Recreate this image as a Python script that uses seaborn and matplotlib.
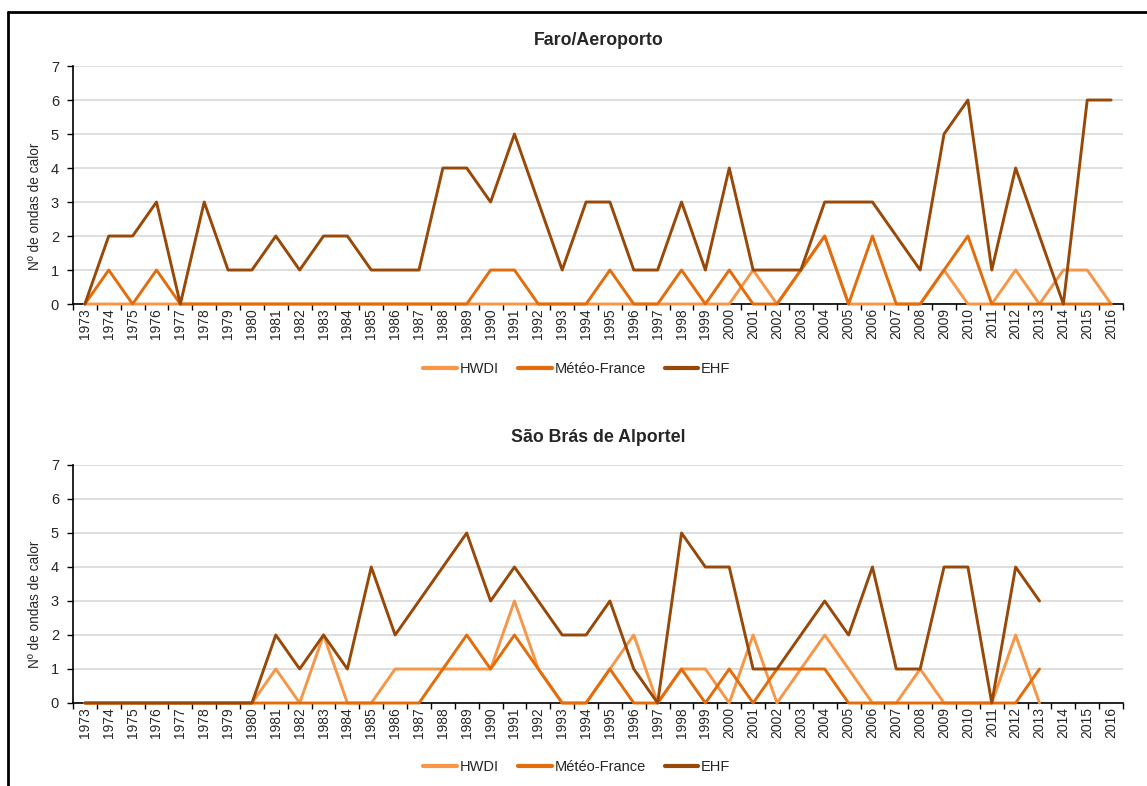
import numpy as np
import pandas as pd
import seaborn as sns
import matplotlib
matplotlib.use("Agg")
import matplotlib.pyplot as plt
from matplotlib.lines import Line2D
from matplotlib.ticker import FixedLocator

years = list(range(1973, 2017))
methods = ["HWDI", "Météo-France", "EHF"]
colors = {"HWDI": "#F79646", "Météo-France": "#E46C0A", "EHF": "#984807"}

# Faro/Aeroporto, 1973-2016
faro_hwdi = [0] * 28 + [1, 0, 1, 2, 0, 0, 0, 0, 1, 0, 0, 1, 0, 1, 1, 0]
faro_meteo = [0, 1, 0, 1, 0] + [0] * 12 + [1, 1, 0, 0, 0, 1, 0, 0, 1, 0, 1, 0, 0, 1,
                                          2, 0, 2, 0, 0, 1, 2, 0, 0, 0, 0, 0, 0]
faro_ehf = [0, 2, 2, 3, 0, 3, 1, 1, 2, 1,
            2, 2, 1, 1, 1, 4, 4, 3, 5, 3,
            1, 3, 3, 1, 1, 3, 1, 4, 1, 1,
            1, 3, 3, 3, 2, 1, 5, 6, 1, 4,
            2, 0, 6, 6]

# Sao Bras de Alportel, 1973-2013 (no data after)
nodata = [np.nan] * 3
sb_hwdi = [0] * 8 + [1, 0, 2, 0, 0, 1, 1, 1, 1, 1, 3, 1, 0, 0, 1, 2, 0, 1, 1, 0,
                     2, 0, 1, 2, 1, 0, 0, 1, 0, 0, 0, 2, 0] + nodata
sb_meteo = [0] * 15 + [1, 2, 1, 2, 1, 0, 0, 1, 0, 0, 1, 0, 1, 0, 1, 1, 1, 0, 0,
                       0, 0, 0, 0, 0, 0, 1] + nodata
sb_ehf = [0] * 8 + [2, 1, 2, 1, 4, 2, 3, 4, 5, 3, 4, 3, 2, 2, 3, 1, 0, 5, 4, 4,
                    1, 1, 2, 3, 2, 4, 1, 1, 4, 4, 0, 4, 3] + nodata


def to_long(hwdi, meteo, ehf):
    frames = []
    for name, vals in zip(methods, [hwdi, meteo, ehf]):
        frames.append(pd.DataFrame({"pos": np.arange(len(years)), "value": vals,
                                    "method": name}))
    return pd.concat(frames, ignore_index=True)


sns.set_style("white")
plt.rcParams["font.family"] = ["Liberation Sans", "DejaVu Sans"]

fig = plt.figure(figsize=(11.47, 7.86), dpi=100)

panels = [
    ("Faro/Aeroporto", to_long(faro_hwdi, faro_meteo, faro_ehf),
     [0.0636, 0.6132, 0.9155, 0.3028], 0.948, 0.5305, 0.41),
    ("São Brás de Alportel", to_long(sb_hwdi, sb_meteo, sb_ehf),
     [0.0636, 0.1056, 0.9155, 0.3028], 0.444, 0.024, 0.416),
]

for title, df, rect, title_y, legend_y, ylab_y in panels:
    ax = fig.add_axes(rect)
    sns.lineplot(data=df, x="pos", y="value", hue="method", hue_order=methods,
                 palette=colors, linewidth=2.1, ax=ax, legend=True)
    for ln in ax.lines:
        ln.set_clip_on(False)
        ln.set_zorder(3)
    ax.set_xlim(-0.5, len(years) - 0.5)
    ax.set_ylim(0, 7)
    ax.set_yticks(range(0, 8))
    ax.yaxis.grid(True, color="#D9D9D9", linewidth=1.2)
    ax.set_axisbelow(True)
    # year labels centred on categories, tick marks between them
    ax.set_xticks(np.arange(len(years)))
    ax.set_xticklabels([str(y) for y in years], rotation=90, fontsize=10)
    ax.xaxis.set_minor_locator(FixedLocator(np.arange(-0.5, len(years), 1.0)))
    ax.tick_params(axis="x", which="major", length=0, pad=3)
    ax.tick_params(axis="x", which="minor", length=4, width=1, color="black",
                   direction="out", bottom=True)
    ax.tick_params(axis="y", length=4, width=1, color="black", direction="out",
                   left=True, labelsize=10.5, pad=6)
    for side in ["top", "right"]:
        ax.spines[side].set_visible(False)
    for side in ["left", "bottom"]:
        ax.spines[side].set_color("black")
        ax.spines[side].set_linewidth(1.2)
    ax.set_xlabel("")
    ax.set_ylabel("Nº de ondas de calor", fontsize=9.8)
    ax.yaxis.set_label_coords(-0.029, ylab_y)
    fig.text(0.522, title_y, title, ha="center", va="center",
             fontsize=12.8, fontweight="bold")
    sns.move_legend(ax, "center", bbox_to_anchor=(0.503, legend_y),
                    bbox_transform=fig.transFigure, ncol=3, title=None,
                    frameon=False, fontsize=10.5, handlelength=2.3,
                    handletextpad=0.2, columnspacing=1.3)
    for h in ax.get_legend().get_lines():
        h.set_linewidth(3)

# outer frame of the original figure
fig.add_artist(Line2D([8 / 1147, 1.0], [1 - 12 / 786, 1 - 12 / 786],
                      color="black", linewidth=2, transform=fig.transFigure))
fig.add_artist(Line2D([8 / 1147, 8 / 1147], [1 - 12 / 786, 0.0],
                      color="black", linewidth=2, transform=fig.transFigure))

fig.savefig("out.png", dpi=100)
